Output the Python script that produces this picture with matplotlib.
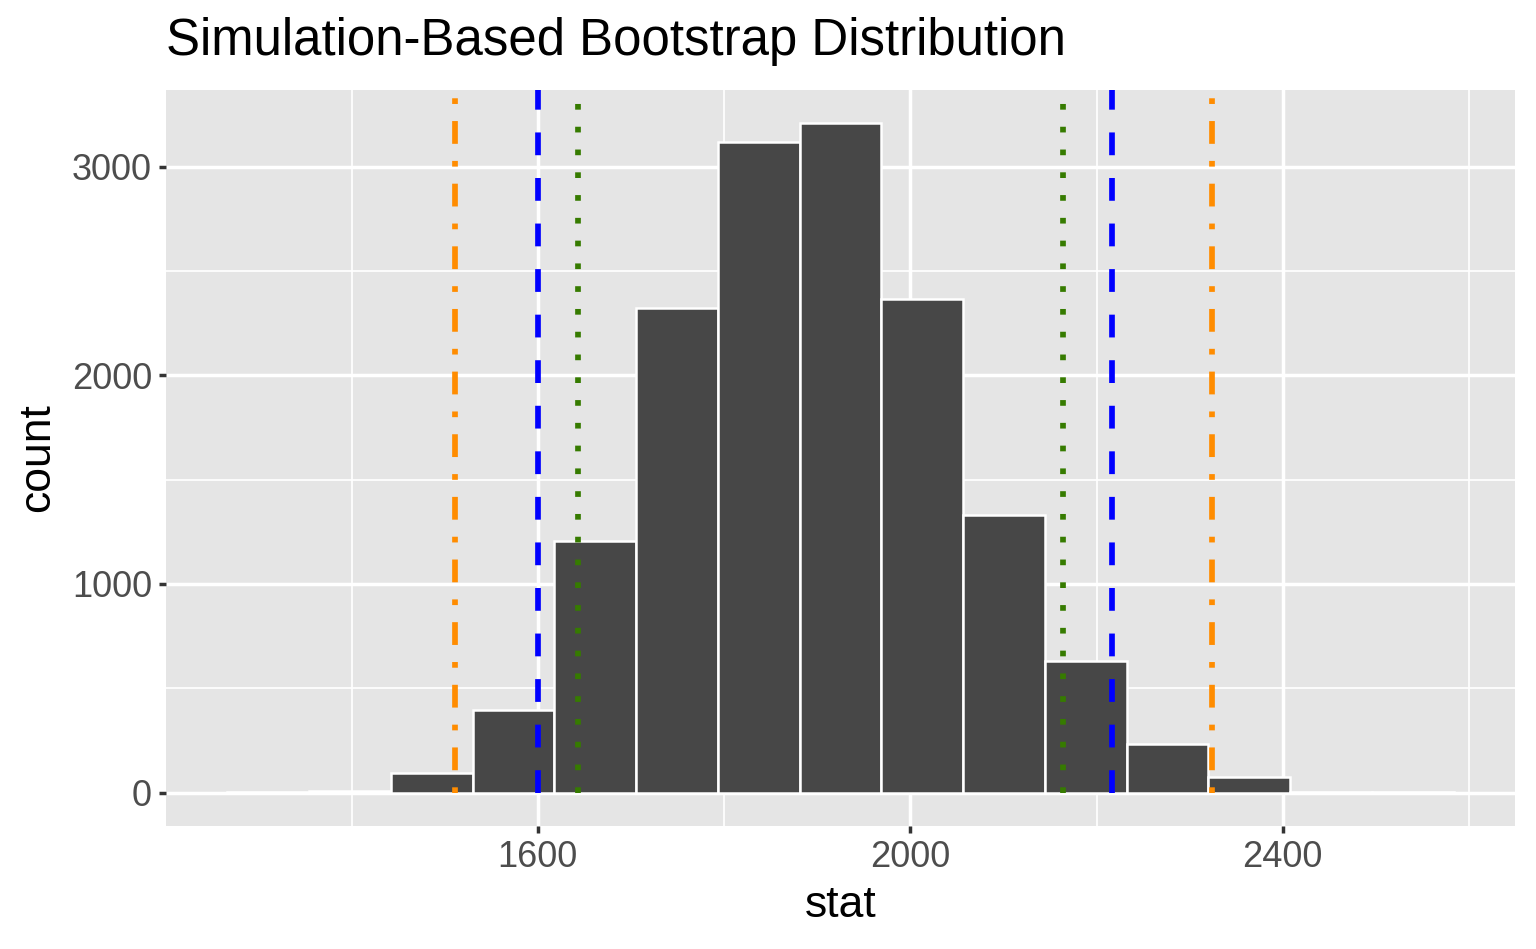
import matplotlib
matplotlib.use("Agg")
import matplotlib.pyplot as plt

# histogram bins (15 equal bins)
bin_edges = [1266.5, 1354.3, 1442.1, 1529.9, 1617.7, 1705.5, 1793.3, 1881.1,
             1968.9, 2056.7, 2144.5, 2232.3, 2320.1, 2407.9, 2495.7, 2583.5]
counts = [1, 6, 95, 398, 1207, 2322, 3116, 3207, 2364, 1328, 630, 231, 74, 3, 1]

# interval endpoints drawn as vertical lines
ci_orange = [1511, 2324]   # dotdash
ci_blue = [1600, 2217]     # dashed
ci_green = [1643, 2164]    # dotted

x_major = [1600, 2000, 2400]
x_minor = [1400, 1800, 2200, 2600]
y_major = [0, 1000, 2000, 3000]
y_minor = [500, 1500, 2500]

plt.rcParams['font.family'] = ['Liberation Sans', 'DejaVu Sans']

fig = plt.figure(figsize=(15.36, 9.49), dpi=100)
ax = fig.add_axes([166 / 1536, 1 - 826 / 949, (1515 - 166) / 1536, (826 - 90) / 949])
ax.set_facecolor('#E5E5E5')
for s in ax.spines.values():
    s.set_visible(False)

# expand 5% like ggplot
lo, hi = bin_edges[0], bin_edges[-1]
pad = (hi - lo) * 0.05
ax.set_xlim(lo - pad, hi + pad)
ytop = max(counts)
ax.set_ylim(-ytop * 0.05, ytop * 1.05)

ax.set_xticks(x_major)
ax.set_xticks(x_minor, minor=True)
ax.set_yticks(y_major)
ax.set_yticks(y_minor, minor=True)
ax.grid(which='major', color='white', linewidth=2.5)
ax.grid(which='minor', color='white', linewidth=1.25)
ax.set_axisbelow(True)

widths = [b - a for a, b in zip(bin_edges[:-1], bin_edges[1:])]
ax.bar(bin_edges[:-1], counts, width=widths, align='edge',
       color='#474747', edgecolor='white', linewidth=1.8, zorder=2)

y0, y1 = 0, ax.get_ylim()[1]
ax.vlines(ci_orange, y0, y1, colors='#FF8C00', linewidth=4.1,
          linestyles=[(0, (1, 3, 4, 3))], zorder=3)
ax.vlines(ci_blue, y0, y1, colors='#0000FF', linewidth=4.1,
          linestyles=[(0, (4, 4))], zorder=3)
ax.vlines(ci_green, y0, y1, colors='#367B00', linewidth=4.1,
          linestyles=[(0, (1, 3))], zorder=3)

ax.tick_params(which='major', length=5, width=2.5, color='#333333',
               labelsize=26, labelcolor='#4D4D4D', pad=5)
ax.tick_params(which='minor', length=0)

ax.set_xlabel('stat', fontsize=32, labelpad=7)
ax.set_ylabel('count', fontsize=32, labelpad=10)
fig.text(166 / 1536, 1 - 42 / 949, 'Simulation-Based Bootstrap Distribution',
         fontsize=36.7, ha='left', va='center')

fig.savefig('out.png', dpi=100)
